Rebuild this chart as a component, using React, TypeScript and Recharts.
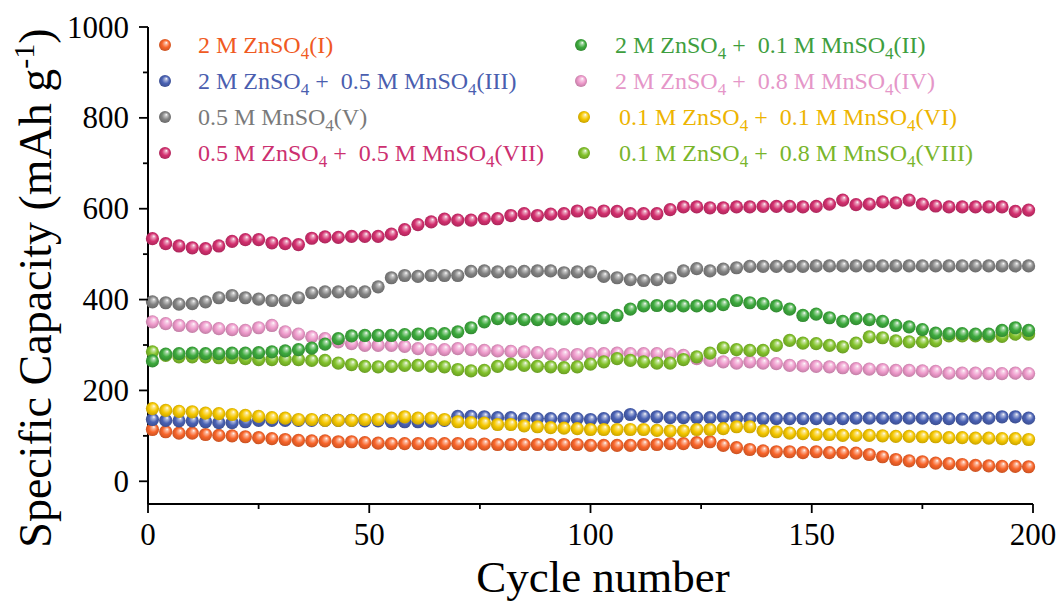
import React from 'react';
import { ScatterChart, Scatter, XAxis, YAxis, Label } from 'recharts';

const W = 1063;
const H = 601;
const SERIF = "'Liberation Serif', 'Times New Roman', serif";

// Cycle numbers at which capacity was sampled
const cycles = [
  1, 4, 7, 10, 13, 16, 19, 22, 25, 28, 31, 34, 37, 40, 43, 46, 49,
  52, 55, 58, 61, 64, 67, 70, 73, 76, 79, 82, 85, 88, 91, 94, 97,
  100, 103, 106, 109, 112, 115, 118, 121, 124, 127, 130, 133, 136, 139, 142, 145, 148,
  151, 154, 157, 160, 163, 166, 169, 172, 175, 178, 181, 184, 187, 190, 193, 196, 199,
];

// Specific capacity (mAh g-1) for each electrolyte
const capI = [
  114, 109, 106, 106, 103, 101, 100, 98, 96, 94, 92, 90, 89, 89, 87, 87, 85,
  84, 83, 83, 83, 83, 83, 83, 82, 82, 81, 81, 81, 81, 81, 81, 81,
  79, 79, 79, 79, 81, 81, 83, 83, 85, 87, 79, 74, 70, 67, 65, 65, 63,
  65, 63, 63, 62, 59, 54, 48, 45, 43, 40, 39, 37, 35, 34, 33, 33, 32,
];
const capII = [
  265, 280, 281, 282, 281, 281, 282, 282, 283, 285, 287, 290, 293, 302, 314, 320, 321,
  321, 321, 323, 324, 325, 325, 329, 338, 351, 358, 358, 356, 356, 356, 357, 358,
  358, 360, 365, 379, 386, 387, 386, 386, 386, 386, 389, 398, 393, 391, 386, 379, 365,
  368, 360, 352, 358, 356, 352, 343, 340, 334, 326, 325, 325, 324, 324, 332, 338, 332,
];
const capIII = [
  136, 134, 133, 133, 131, 129, 129, 131, 134, 134, 134, 134, 134, 134, 134, 134, 133,
  133, 131, 131, 131, 132, 134, 143, 143, 142, 140, 140, 138, 138, 138, 138, 138,
  136, 138, 142, 147, 143, 142, 140, 140, 140, 140, 142, 139, 138, 138, 138, 138, 138,
  138, 138, 138, 139, 139, 139, 139, 139, 139, 138, 138, 137, 139, 139, 142, 142, 139,
];
const capIV = [
  351, 347, 343, 341, 339, 336, 334, 332, 338, 343, 329, 324, 318, 314, 307, 303, 299,
  299, 299, 297, 292, 290, 290, 292, 290, 288, 287, 286, 285, 283, 280, 279, 279,
  281, 281, 282, 281, 281, 281, 280, 277, 270, 266, 263, 260, 263, 260, 259, 255, 254,
  253, 252, 250, 248, 247, 246, 244, 244, 243, 242, 238, 238, 238, 237, 237, 238, 237,
];
const capV = [
  395, 393, 390, 391, 395, 404, 409, 404, 401, 398, 398, 404, 415, 417, 417, 417, 417,
  428, 448, 453, 451, 453, 453, 453, 462, 463, 461, 461, 462, 463, 463, 459, 461,
  461, 451, 448, 444, 442, 444, 448, 463, 468, 463, 467, 470, 473, 473, 473, 473, 473,
  474, 474, 474, 474, 474, 474, 474, 474, 474, 474, 474, 474, 474, 474, 474, 474, 474,
];
const capVI = [
  160, 156, 154, 153, 150, 149, 147, 145, 143, 140, 139, 136, 136, 134, 134, 134, 136,
  136, 139, 142, 139, 139, 136, 131, 129, 128, 125, 125, 122, 120, 118, 117, 116,
  114, 114, 114, 114, 114, 112, 111, 111, 114, 114, 116, 120, 120, 111, 109, 106, 105,
  103, 103, 101, 101, 101, 100, 99, 99, 98, 98, 96, 96, 95, 95, 94, 94, 92,
];
const capVII = [
  534, 523, 518, 514, 512, 518, 528, 532, 532, 525, 523, 521, 535, 538, 537, 539, 539,
  539, 544, 554, 565, 571, 577, 575, 575, 578, 578, 585, 589, 585, 588, 589, 595,
  591, 595, 594, 589, 589, 589, 598, 604, 604, 602, 602, 604, 604, 605, 605, 605, 604,
  605, 610, 619, 609, 610, 615, 613, 619, 610, 606, 604, 604, 604, 604, 604, 594, 597,
];
const capVIII = [
  285, 277, 274, 274, 274, 272, 272, 270, 268, 268, 268, 268, 266, 266, 260, 257, 253,
  252, 253, 255, 255, 253, 252, 246, 243, 244, 253, 258, 255, 253, 252, 250, 252,
  258, 263, 270, 266, 263, 260, 260, 268, 274, 282, 294, 290, 288, 288, 299, 310, 304,
  303, 299, 296, 304, 318, 316, 309, 307, 307, 309, 320, 320, 320, 319, 319, 324, 324,
];

const xTicks = [0, 25, 50, 75, 100, 125, 150, 175, 200];
const yTicks = [0, 100, 200, 300, 400, 500, 600, 700, 800, 900, 1000];

type Seg = { t: string; sub?: boolean };

interface SeriesDef {
  id: string;
  values: number[];
  color: string;
  text: string;
  label: Seg[];
}

const series: Record<string, SeriesDef> = {
  I: {
    id: 'I', values: capI, color: '#F8652A', text: '#F05A22',
    label: [{ t: '2 M ZnSO' }, { t: '4', sub: true }, { t: '(I)' }],
  },
  II: {
    id: 'II', values: capII, color: '#3DAA3D', text: '#3E9E3E',
    label: [{ t: '2 M ZnSO' }, { t: '4', sub: true }, { t: ' +  0.1 M MnSO' }, { t: '4', sub: true }, { t: '(II)' }],
  },
  III: {
    id: 'III', values: capIII, color: '#4A62B4', text: '#4A5EAF',
    label: [{ t: '2 M ZnSO' }, { t: '4', sub: true }, { t: ' +  0.5 M MnSO' }, { t: '4', sub: true }, { t: '(III)' }],
  },
  IV: {
    id: 'IV', values: capIV, color: '#EE9ACB', text: '#E596C8',
    label: [{ t: '2 M ZnSO' }, { t: '4', sub: true }, { t: ' +  0.8 M MnSO' }, { t: '4', sub: true }, { t: '(IV)' }],
  },
  V: {
    id: 'V', values: capV, color: '#838383', text: '#7A7A7A',
    label: [{ t: '0.5 M MnSO' }, { t: '4', sub: true }, { t: '(V)' }],
  },
  VI: {
    id: 'VI', values: capVI, color: '#F6C800', text: '#EDB400',
    label: [{ t: '0.1 M ZnSO' }, { t: '4', sub: true }, { t: ' +  0.1 M MnSO' }, { t: '4', sub: true }, { t: '(VI)' }],
  },
  VII: {
    id: 'VII', values: capVII, color: '#D3306F', text: '#CC3070',
    label: [{ t: '0.5 M ZnSO' }, { t: '4', sub: true }, { t: ' +  0.5 M MnSO' }, { t: '4', sub: true }, { t: '(VII)' }],
  },
  VIII: {
    id: 'VIII', values: capVIII, color: '#82C22B', text: '#79B52B',
    label: [{ t: '0.1 M ZnSO' }, { t: '4', sub: true }, { t: ' +  0.8 M MnSO' }, { t: '4', sub: true }, { t: '(VIII)' }],
  },
};

// painting order of the series (later ones sit on top)
const drawOrder = ['I', 'III', 'VI', 'IV', 'VIII', 'II', 'V', 'VII'];

// legend layout: two columns of four rows
const legendLeft = ['I', 'III', 'V', 'VII'];
const legendRight = ['II', 'IV', 'VI', 'VIII'];

function shade(hex: string, f: number): string {
  const n = parseInt(hex.slice(1), 16);
  const ch = [(n >> 16) & 255, (n >> 8) & 255, n & 255].map((c) =>
    Math.round(f >= 0 ? c + (255 - c) * f : c * (1 + f))
  );
  return `rgb(${ch[0]},${ch[1]},${ch[2]})`;
}

function SphereDefs() {
  return (
    <svg width={0} height={0} style={{ position: 'absolute', left: 0, top: 0 }}>
      <defs>
        {Object.values(series).map((s) => (
          <radialGradient key={s.id} id={`ball-${s.id}`} cx="50%" cy="50%" r="55%" fx="62%" fy="30%">
            <stop offset="0%" stopColor="#ffffff" />
            <stop offset="18%" stopColor={shade(s.color, 0.55)} />
            <stop offset="55%" stopColor={s.color} />
            <stop offset="100%" stopColor={shade(s.color, -0.22)} />
          </radialGradient>
        ))}
      </defs>
    </svg>
  );
}

function XTick(props: any) {
  const { x, y, payload } = props;
  const major = payload.value % 50 === 0;
  return (
    <g>
      <line x1={x} x2={x} y1={y} y2={y + (major ? 9 : 5)} stroke="#000" strokeWidth={1.8} />
      {major && (
        <text x={x} y={y + 41} textAnchor="middle" fontSize={31} fontFamily={SERIF} fill="#000">
          {payload.value}
        </text>
      )}
    </g>
  );
}

function YTick(props: any) {
  const { x, y, payload } = props;
  const major = payload.value % 200 === 0;
  return (
    <g>
      <line x1={x} x2={x - (major ? 9 : 5)} y1={y} y2={y} stroke="#000" strokeWidth={1.8} />
      {major && (
        <text x={x - 19} y={y} dy="0.34em" textAnchor="end" fontSize={31} fontFamily={SERIF} fill="#000">
          {payload.value}
        </text>
      )}
    </g>
  );
}

function XTitle() {
  return (
    <text x={603} y={592} textAnchor="middle" fontSize={45} fontFamily={SERIF} fill="#000">
      Cycle number
    </text>
  );
}

function YTitle() {
  return (
    <text
      x={51}
      y={288}
      transform="rotate(-90 51 288)"
      textAnchor="middle"
      fontSize={46}
      fontFamily={SERIF}
      fill="#000"
    >
      Specific Capacity (mAh g
      <tspan dy={-17} fontSize={30}>-1</tspan>
      <tspan dy={17}>)</tspan>
    </text>
  );
}

function LegendText({ x, y, segs, color }: { x: number; y: number; segs: Seg[]; color: string }) {
  let lowered = false;
  return (
    <text x={x} y={y} fontSize={24} fontFamily={SERIF} fill={color} style={{ whiteSpace: 'pre' }}>
      {segs.map((s, i) => {
        let dy = 0;
        if (s.sub && !lowered) {
          dy = 6;
          lowered = true;
        } else if (!s.sub && lowered) {
          dy = -6;
          lowered = false;
        }
        return (
          <tspan key={i} dy={dy} fontSize={s.sub ? 17 : 24}>
            {s.t}
          </tspan>
        );
      })}
    </text>
  );
}

function LegendOverlay() {
  const rows = [45, 81, 117, 153];
  return (
    <svg width={W} height={H} style={{ position: 'absolute', left: 0, top: 0, pointerEvents: 'none' }}>
      {legendLeft.map((k, i) => (
        <g key={k}>
          <circle cx={165} cy={rows[i]} r={6} fill={`url(#ball-${k})`} />
          <LegendText x={198} y={rows[i] + 8} segs={series[k].label} color={series[k].text} />
        </g>
      ))}
      {legendRight.map((k, i) => {
        const mx = i < 2 ? 581 : 584;
        const tx = i < 2 ? 615 : 619;
        return (
          <g key={k}>
            <circle cx={mx} cy={rows[i]} r={6} fill={`url(#ball-${k})`} />
            <LegendText x={tx} y={rows[i] + 8} segs={series[k].label} color={series[k].text} />
          </g>
        );
      })}
    </svg>
  );
}

export default function App() {
  return (
    <div style={{ position: 'absolute', left: 0, top: 0, width: W, height: H, background: '#fff' }}>
      <SphereDefs />
      <ScatterChart width={W} height={H} margin={{ top: 27, right: 30, bottom: 0, left: 0 }}>
        <XAxis
          xAxisId="bottom"
          type="number"
          dataKey="cycle"
          domain={[0, 200]}
          ticks={xTicks}
          interval={0}
          tickSize={0}
          tickMargin={0}
          tickLine={false}
          height={97}
          axisLine={{ stroke: '#000', strokeWidth: 2 }}
          tick={(p: any) => <XTick {...p} />}
        >
          <Label content={() => <XTitle />} />
        </XAxis>
        <XAxis
          xAxisId="top"
          orientation="top"
          type="number"
          domain={[0, 200]}
          height={0}
          tick={false}
          tickLine={false}
          axisLine={{ stroke: '#000', strokeWidth: 2 }}
        />
        <YAxis
          yAxisId="left"
          type="number"
          dataKey="cap"
          domain={[-50, 1000]}
          ticks={yTicks}
          interval={0}
          tickSize={0}
          tickMargin={0}
          tickLine={false}
          width={148}
          axisLine={{ stroke: '#000', strokeWidth: 2 }}
          tick={(p: any) => <YTick {...p} />}
        >
          <Label content={() => <YTitle />} />
        </YAxis>
        <YAxis
          yAxisId="right"
          orientation="right"
          type="number"
          domain={[-50, 1000]}
          width={0}
          tick={false}
          tickLine={false}
          axisLine={{ stroke: '#000', strokeWidth: 2 }}
        />
        {drawOrder.map((k) => {
          const s = series[k];
          const data = cycles.map((c, i) => ({ cycle: c, cap: s.values[i] }));
          return (
            <Scatter
              key={k}
              name={k}
              data={data}
              xAxisId="bottom"
              yAxisId="left"
              isAnimationActive={false}
              shape={(p: any) => <circle cx={p.cx} cy={p.cy} r={6.6} fill={`url(#ball-${k})`} />}
            />
          );
        })}
      </ScatterChart>
      <LegendOverlay />
    </div>
  );
}
